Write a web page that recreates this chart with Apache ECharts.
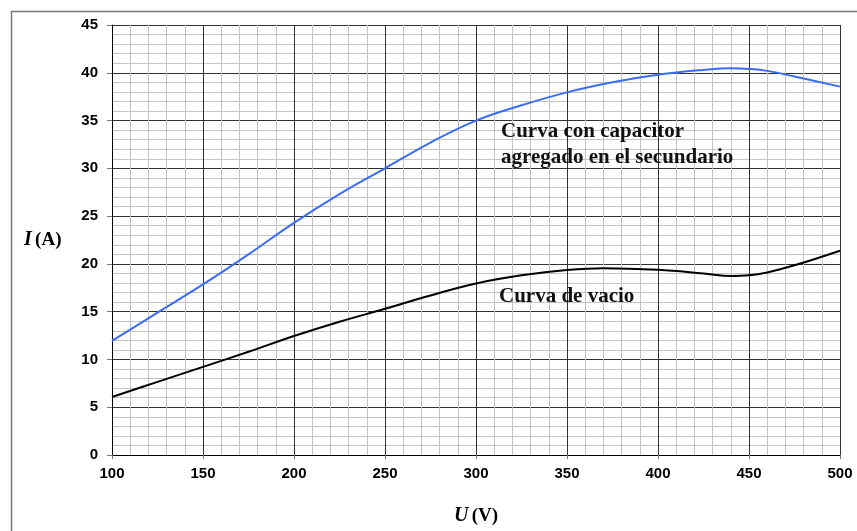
<!DOCTYPE html>
<html>
<head>
<meta charset="utf-8">
<script src="https://cdn.jsdelivr.net/npm/echarts@6/dist/echarts.min.js"></script>
<style>html,body{margin:0;padding:0;background:#fff}#c{width:857px;height:531px}</style>
</head>
<body>
<div id="c"></div>
<script>
// U (V) values and currents I (A)
const capU = [100, 125, 150, 175, 200, 225, 250, 275, 300, 325, 350, 375, 400, 425, 440, 450, 460, 475, 500];
const capI = [11.95, 14.9, 17.85, 21.0, 24.3, 27.3, 30.0, 32.7, 35.0, 36.6, 37.95, 39.0, 39.8, 40.3, 40.47, 40.4, 40.2, 39.6, 38.55];
const vacU = [100, 125, 150, 175, 200, 225, 250, 275, 300, 325, 350, 370, 400, 425, 440, 450, 460, 475, 500];
const vacI = [6.07, 7.65, 9.22, 10.8, 12.45, 13.95, 15.3, 16.7, 17.95, 18.8, 19.35, 19.55, 19.38, 19.0, 18.73, 18.8, 19.1, 19.85, 21.38];
const capLabel = ['Curva con capacitor', 'agregado en el secundario'];
const vacLabel = 'Curva de vacio';

const chart = echarts.init(document.getElementById('c'), null, {renderer: 'canvas'});
const pairs = (xs, ys) => xs.map((x, i) => [x, ys[i]]);
const serif = 'Liberation Serif';
const sans = 'Liberation Sans';
chart.setOption({
  animation: false,
  backgroundColor: '#fff',
  grid: {left: 112, right: 17, top: 25, bottom: 76},
  xAxis: {
    type: 'value', min: 100, max: 500, interval: 50,
    axisLine: {show: true, onZero: false, lineStyle: {color: '#000', width: 1}},
    axisTick: {show: true, length: 4, lineStyle: {color: '#777'}},
    axisLabel: {color: '#000', fontWeight: 'bold', fontSize: 15, fontFamily: sans, margin: 11},
    splitLine: {show: true, lineStyle: {color: '#333', width: 1}},
    minorTick: {show: false, splitNumber: 5},
    minorSplitLine: {show: true, lineStyle: {color: '#c4c4c4', width: 1}}
  },
  yAxis: {
    type: 'value', min: 0, max: 45, interval: 5,
    axisLine: {show: true, lineStyle: {color: '#000', width: 1}},
    axisTick: {show: true, length: 5, lineStyle: {color: '#777'}},
    axisLabel: {color: '#000', fontWeight: 'bold', fontSize: 15, fontFamily: sans, margin: 14},
    splitLine: {show: true, lineStyle: {color: '#333', width: 1}},
    minorTick: {show: false, splitNumber: 5},
    minorSplitLine: {show: true, lineStyle: {color: '#c4c4c4', width: 1}}
  },
  series: [
    {type: 'line', data: pairs(capU, capI), smooth: 0.4, showSymbol: false,
     lineStyle: {color: '#3a6cf4', width: 2}},
    {type: 'line', data: pairs(vacU, vacI), smooth: 0.4, showSymbol: false,
     lineStyle: {color: '#000', width: 2}}
  ],
  graphic: [
    {type: 'rect', left: 9, top: 9, silent: true, z: 100,
     shape: {x: 0, y: 0, width: 860, height: 540},
     style: {fill: 'none', stroke: '#777', lineWidth: 1.5}},
    {type: 'text', left: 501, top: 119, z: 100,
     style: {text: capLabel.join('\n'), fontFamily: serif, fontWeight: 'bold', fontSize: 21, fill: '#111', lineHeight: 26}},
    {type: 'text', left: 499, top: 286, z: 100,
     style: {text: vacLabel, fontFamily: serif, fontWeight: 'bold', fontSize: 21, fill: '#111'}},
    {type: 'text', left: 24, top: 230, z: 100,
     style: {text: '{i|I} {n|(A)}', rich: {
       i: {fontFamily: serif, fontStyle: 'italic', fontWeight: 'bold', fontSize: 20, fill: '#000'},
       n: {fontFamily: serif, fontWeight: 'bold', fontSize: 19, fill: '#000'}}}},
    {type: 'text', left: 454, top: 506, z: 100,
     style: {text: '{i|U} {n|(V)}', rich: {
       i: {fontFamily: serif, fontStyle: 'italic', fontWeight: 'bold', fontSize: 20, fill: '#000'},
       n: {fontFamily: serif, fontWeight: 'bold', fontSize: 19, fill: '#000'}}}}
  ]
});
</script>
</body>
</html>
